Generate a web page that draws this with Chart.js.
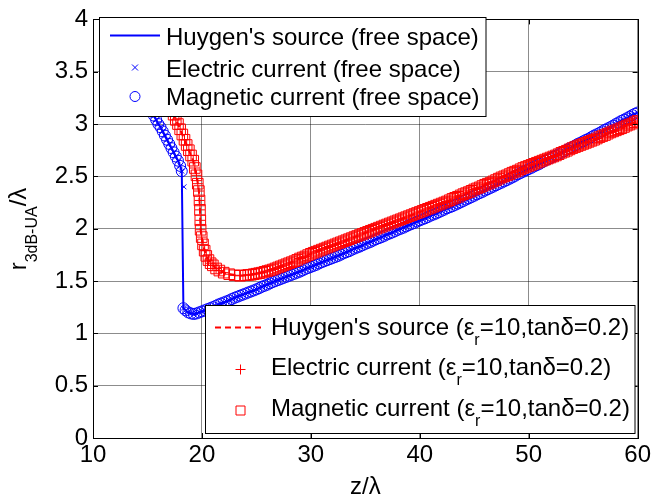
<!DOCTYPE html>
<html>
<head>
<meta charset="utf-8">
<script src="https://cdn.jsdelivr.net/npm/chart.js@4.4.1/dist/chart.umd.min.js"></script>
<style>
  html, body { margin: 0; padding: 0; background: #fff; }
  #cadre { width: 654px; height: 501px; }
</style>
</head>
<body>
<div id="cadre"><canvas id="graphique" width="654" height="501"></canvas></div>
<script>
// espace libre : z/lambda et r3dB-UA/lambda
const zLibre = [
  15.0, 15.2, 15.4, 15.6, 15.8, 16.0, 16.2, 16.4, 16.6, 16.8,
  17.0, 17.2, 17.4, 17.6, 17.8, 18.0, 18.15, 18.3, 18.5, 18.75,
  19.0, 19.25, 19.5, 19.75,
  20.0, 20.25, 20.5, 20.75, 21.0, 21.25, 21.5, 21.75,
  22.0, 22.25, 22.5, 22.75, 23.0, 23.25, 23.5, 23.75,
  24.0, 24.25, 24.5, 24.75, 25.0, 25.25, 25.5, 25.75,
  26.0, 26.25, 26.5, 26.75, 27.0, 27.25, 27.5, 27.75,
  28.0, 28.25, 28.5, 28.75, 29.0, 29.25, 29.5, 29.75,
  30.0, 30.25, 30.5, 30.75, 31.0, 31.25, 31.5, 31.75,
  32.0, 32.25, 32.5, 32.75, 33.0, 33.25, 33.5, 33.75,
  34.0, 34.25, 34.5, 34.75, 35.0, 35.25, 35.5, 35.75,
  36.0, 36.25, 36.5, 36.75, 37.0, 37.25, 37.5, 37.75,
  38.0, 38.25, 38.5, 38.75, 39.0, 39.25, 39.5, 39.75,
  40.0, 40.25, 40.5, 40.75, 41.0, 41.25, 41.5, 41.75,
  42.0, 42.25, 42.5, 42.75, 43.0, 43.25, 43.5, 43.75,
  44.0, 44.25, 44.5, 44.75, 45.0, 45.25, 45.5, 45.75,
  46.0, 46.25, 46.5, 46.75, 47.0, 47.25, 47.5, 47.75,
  48.0, 48.25, 48.5, 48.75, 49.0, 49.25, 49.5, 49.75,
  50.0, 50.25, 50.5, 50.75, 51.0, 51.25, 51.5, 51.75,
  52.0, 52.25, 52.5, 52.75, 53.0, 53.25, 53.5, 53.75,
  54.0, 54.25, 54.5, 54.75, 55.0, 55.25, 55.5, 55.75,
  56.0, 56.25, 56.5, 56.75, 57.0, 57.25, 57.5, 57.75,
  58.0, 58.25, 58.5, 58.75, 59.0, 59.25, 59.5, 59.75,
  60.0
];
const rLibre = [
  3.20, 3.16, 3.12, 3.08, 3.04, 3.00, 2.97, 2.93, 2.89, 2.85,
  2.81, 2.77, 2.73, 2.69, 2.65, 2.60, 2.55, 1.24, 1.22, 1.20,
  1.19, 1.185, 1.19, 1.20,
  1.21, 1.22, 1.23, 1.24, 1.25, 1.262, 1.275, 1.285,
  1.295, 1.305, 1.315, 1.328, 1.34, 1.35, 1.36, 1.37,
  1.38, 1.39, 1.40, 1.41, 1.42, 1.432, 1.445, 1.455,
  1.465, 1.478, 1.49, 1.50, 1.51, 1.52, 1.53, 1.54,
  1.55, 1.56, 1.57, 1.58, 1.59, 1.602, 1.615, 1.625,
  1.635, 1.645, 1.655, 1.668, 1.68, 1.69, 1.70, 1.71,
  1.72, 1.73, 1.74, 1.752, 1.765, 1.775, 1.785, 1.798,
  1.81, 1.82, 1.83, 1.842, 1.855, 1.865, 1.875, 1.888,
  1.90, 1.91, 1.92, 1.932, 1.945, 1.955, 1.965, 1.978,
  1.99, 2.00, 2.01, 2.022, 2.035, 2.045, 2.055, 2.068,
  2.08, 2.09, 2.10, 2.112, 2.125, 2.135, 2.145, 2.158,
  2.17, 2.182, 2.195, 2.205, 2.215, 2.228, 2.24, 2.252,
  2.265, 2.278, 2.29, 2.302, 2.315, 2.328, 2.34, 2.352,
  2.365, 2.378, 2.39, 2.402, 2.415, 2.428, 2.44, 2.452,
  2.465, 2.478, 2.49, 2.505, 2.52, 2.532, 2.545, 2.558,
  2.57, 2.582, 2.595, 2.608, 2.62, 2.635, 2.65, 2.662,
  2.675, 2.688, 2.70, 2.712, 2.725, 2.74, 2.755, 2.768,
  2.78, 2.795, 2.81, 2.822, 2.835, 2.848, 2.86, 2.875,
  2.89, 2.902, 2.915, 2.93, 2.945, 2.958, 2.97, 2.985,
  3.00, 3.015, 3.03, 3.042, 3.055, 3.07, 3.085, 3.098,
  3.11
];
// le courant electrique decroche un echantillon plus tard
const zSautElec = [18.35];
const rSautElec = [2.40];

// dielectrique eps_r = 10, tan d = 0.2
const zDiel = [
  17.0, 17.2, 17.4, 17.6, 17.8, 18.0, 18.2, 18.4, 18.6, 18.8,
  19.0, 19.2, 19.35, 19.5, 19.62, 19.72, 19.78, 19.82, 19.85, 19.88,
  19.98, 20.1, 20.25, 20.4, 20.6, 20.8, 21.0, 21.3, 21.6, 22.0,
  22.5, 23.0, 23.5,
  24.0, 24.25, 24.5, 24.75, 25.0, 25.25, 25.5, 25.75,
  26.0, 26.25, 26.5, 26.75, 27.0, 27.25, 27.5, 27.75,
  28.0, 28.25, 28.5, 28.75, 29.0, 29.25, 29.5, 29.75,
  30.0, 30.25, 30.5, 30.75, 31.0, 31.25, 31.5, 31.75,
  32.0, 32.25, 32.5, 32.75, 33.0, 33.25, 33.5, 33.75,
  34.0, 34.25, 34.5, 34.75, 35.0, 35.25, 35.5, 35.75,
  36.0, 36.25, 36.5, 36.75, 37.0, 37.25, 37.5, 37.75,
  38.0, 38.25, 38.5, 38.75, 39.0, 39.25, 39.5, 39.75,
  40.0, 40.25, 40.5, 40.75, 41.0, 41.25, 41.5, 41.75,
  42.0, 42.25, 42.5, 42.75, 43.0, 43.25, 43.5, 43.75,
  44.0, 44.25, 44.5, 44.75, 45.0, 45.25, 45.5, 45.75,
  46.0, 46.25, 46.5, 46.75, 47.0, 47.25, 47.5, 47.75,
  48.0, 48.25, 48.5, 48.75, 49.0, 49.25, 49.5, 49.75,
  50.0, 50.25, 50.5, 50.75, 51.0, 51.25, 51.5, 51.75,
  52.0, 52.25, 52.5, 52.75, 53.0, 53.25, 53.5, 53.75,
  54.0, 54.25, 54.5, 54.75, 55.0, 55.25, 55.5, 55.75,
  56.0, 56.25, 56.5, 56.75, 57.0, 57.25, 57.5, 57.75,
  58.0, 58.25, 58.5, 58.75, 59.0, 59.25, 59.5, 59.75,
  60.0
];
const rDiel = [
  3.20, 3.14, 3.09, 3.04, 3.00, 2.95, 2.90, 2.85, 2.80, 2.75,
  2.70, 2.65, 2.58, 2.51, 2.43, 2.36, 2.27, 2.18, 2.08, 1.99,
  1.92, 1.85, 1.79, 1.74, 1.70, 1.67, 1.65, 1.62, 1.60, 1.58,
  1.565, 1.555, 1.55,
  1.555, 1.558, 1.56, 1.565, 1.57, 1.575, 1.58, 1.588,
  1.595, 1.602, 1.61, 1.62, 1.63, 1.64, 1.65, 1.66,
  1.67, 1.68, 1.69, 1.702, 1.715, 1.725, 1.735, 1.748,
  1.76, 1.77, 1.78, 1.79, 1.80, 1.81, 1.82, 1.83,
  1.84, 1.85, 1.86, 1.87, 1.88, 1.89, 1.90, 1.91,
  1.92, 1.93, 1.94, 1.95, 1.96, 1.97, 1.98, 1.99,
  2.00, 2.01, 2.02, 2.03, 2.04, 2.05, 2.06, 2.07,
  2.08, 2.09, 2.10, 2.11, 2.12, 2.13, 2.14, 2.15,
  2.16, 2.17, 2.18, 2.19, 2.20, 2.21, 2.22, 2.23,
  2.24, 2.25, 2.26, 2.272, 2.285, 2.295, 2.305, 2.318,
  2.33, 2.34, 2.35, 2.362, 2.375, 2.385, 2.395, 2.408,
  2.42, 2.43, 2.44, 2.452, 2.465, 2.478, 2.49, 2.50,
  2.51, 2.522, 2.535, 2.545, 2.555, 2.568, 2.58, 2.59,
  2.60, 2.61, 2.62, 2.63, 2.64, 2.65, 2.66, 2.67,
  2.68, 2.69, 2.70, 2.712, 2.725, 2.735, 2.745, 2.758,
  2.77, 2.78, 2.79, 2.80, 2.81, 2.82, 2.83, 2.84,
  2.85, 2.862, 2.875, 2.885, 2.895, 2.908, 2.92, 2.93,
  2.94, 2.95, 2.96, 2.972, 2.985, 2.995, 3.005, 3.018,
  3.03
];

const ticksX = [10, 20, 30, 40, 50, 60];
const ticksY = [0, 0.5, 1, 1.5, 2, 2.5, 3, 3.5, 4];

const police = '"Liberation Sans", Arial, sans-serif';
const bleu = "#0000ff";
const rouge = "#ff0000";

const points = (zs, rs) => zs.map((z, i) => ({ x: z, y: rs[i] }));

function marqueurs(data, couleur, style, rayon) {
  return {
    data,
    showLine: false,
    pointStyle: style,
    pointRadius: rayon,
    pointBorderWidth: 1,
    pointBorderColor: couleur,
    pointBackgroundColor: "rgba(0,0,0,0)",
  };
}

function courbe(data, couleur, pointilles) {
  return {
    data,
    borderColor: couleur,
    borderWidth: 2,
    borderDash: pointilles,
    pointRadius: 0,
    tension: 0,
    fill: false,
  };
}

// texte avec indices : morceaux = [[texte, estIndice]]
function texteIndice(ctx, morceaux, x, y, taille, tailleIndice, decalage) {
  morceaux.forEach(([t, indice]) => {
    ctx.font = `${indice ? tailleIndice : taille}px ${police}`;
    ctx.fillText(t, x, indice ? y + decalage : y);
    x += ctx.measureText(t).width;
  });
  return x;
}

function largeurIndice(ctx, morceaux, taille, tailleIndice) {
  let l = 0;
  morceaux.forEach(([t, indice]) => {
    ctx.font = `${indice ? tailleIndice : taille}px ${police}`;
    l += ctx.measureText(t).width;
  });
  return l;
}

function symbole(ctx, style, x, y, couleur) {
  ctx.strokeStyle = couleur;
  ctx.lineWidth = 1;
  ctx.beginPath();
  if (style === "circle") {
    ctx.arc(x, y, 5, 0, Math.PI * 2);
  } else if (style === "crossRot") {
    ctx.moveTo(x - 3, y - 3); ctx.lineTo(x + 3, y + 3);
    ctx.moveTo(x + 3, y - 3); ctx.lineTo(x - 3, y + 3);
  } else if (style === "cross") {
    ctx.moveTo(x - 5, y); ctx.lineTo(x + 5, y);
    ctx.moveTo(x, y - 5); ctx.lineTo(x, y + 5);
  } else if (style === "rect") {
    ctx.rect(x - 4.5, y - 4.5, 9, 9);
  }
  ctx.stroke();
}

const habillage = {
  id: "habillage",
  afterDraw(chart) {
    const { ctx, chartArea: a, scales } = chart;
    const x = scales.x, y = scales.y;
    ctx.save();

    // petites graduations vers l'interieur et cadre
    ctx.strokeStyle = "#000";
    ctx.lineWidth = 1;
    ctx.beginPath();
    ticksX.forEach((v) => {
      const px = Math.round(x.getPixelForValue(v)) + 0.5;
      ctx.moveTo(px, a.bottom); ctx.lineTo(px, a.bottom - 5);
      ctx.moveTo(px, a.top); ctx.lineTo(px, a.top + 5);
    });
    ticksY.forEach((v) => {
      const py = Math.round(y.getPixelForValue(v)) + 0.5;
      ctx.moveTo(a.left, py); ctx.lineTo(a.left + 5, py);
      ctx.moveTo(a.right, py); ctx.lineTo(a.right - 5, py);
    });
    ctx.stroke();
    ctx.strokeRect(Math.round(a.left) + 0.5, Math.round(a.top) + 0.5,
      Math.round(a.right - a.left), Math.round(a.bottom - a.top));

    // legende espace libre
    ctx.fillStyle = "#fff";
    ctx.fillRect(99.5, 17.5, 386.5, 99);
    ctx.strokeStyle = "#000";
    ctx.strokeRect(99.5, 17.5, 386.5, 99);
    ctx.strokeStyle = bleu;
    ctx.lineWidth = 2;
    ctx.beginPath();
    ctx.moveTo(110, 35.5); ctx.lineTo(160, 35.5);
    ctx.stroke();
    symbole(ctx, "crossRot", 135, 67.5, bleu);
    symbole(ctx, "circle", 135, 96.5, bleu);
    ctx.fillStyle = "#000";
    ctx.textBaseline = "alphabetic";
    ctx.textAlign = "left";
    ctx.font = `24px ${police}`;
    ctx.fillText("Huygen's source (free space)", 166, 45);
    ctx.fillText("Electric current (free space)", 166, 76.5);
    ctx.fillText("Magnetic current (free space)", 166, 105);

    // legende dielectrique
    ctx.fillStyle = "#fff";
    ctx.fillRect(205.5, 305.5, 429.5, 128);
    ctx.strokeStyle = "#000";
    ctx.lineWidth = 1;
    ctx.strokeRect(205.5, 305.5, 429.5, 128);
    ctx.strokeStyle = rouge;
    ctx.lineWidth = 2;
    ctx.setLineDash([6, 4]);
    ctx.beginPath();
    ctx.moveTo(215, 327.5); ctx.lineTo(264, 327.5);
    ctx.stroke();
    ctx.setLineDash([]);
    symbole(ctx, "cross", 240.5, 369.5, rouge);
    symbole(ctx, "rect", 240.5, 410.5, rouge);
    ctx.fillStyle = "#000";
    const suite = (debut) => [[debut + " (\u03b5", false], ["r", true], ["=10,tan\u03b4=0.2)", false]];
    texteIndice(ctx, suite("Huygen's source"), 271, 334.5, 24, 16, 10);
    texteIndice(ctx, suite("Electric current"), 271, 375, 24, 16, 10);
    texteIndice(ctx, suite("Magnetic current"), 271, 415.5, 24, 16, 10);

    // titres des axes
    ctx.font = `24px ${police}`;
    ctx.textAlign = "center";
    ctx.fillText("z/\u03bb", (a.left + a.right) / 2, 494);

    const titreY = [["r", false], ["3dB-UA", true], ["/\u03bb", false]];
    ctx.textAlign = "left";
    ctx.translate(26, 229);
    ctx.rotate(-Math.PI / 2);
    const l = largeurIndice(ctx, titreY, 24, 16);
    texteIndice(ctx, titreY, -l / 2, 0, 24, 16, 11);

    ctx.restore();
  },
};

const chart = new Chart(document.getElementById("graphique"), {
  type: "line",
  data: {
    datasets: [
      marqueurs(points(zDiel, rDiel), rouge, "cross", 5),
      marqueurs(points(zDiel, rDiel), rouge, "rect", 7.5),
      courbe(points(zDiel, rDiel), rouge, [6, 4]),
      courbe(points(zLibre, rLibre), bleu, []),
      marqueurs(points(zLibre, rLibre).concat(points(zSautElec, rSautElec)), bleu, "crossRot", 3.5),
      marqueurs(points(zLibre, rLibre), bleu, "circle", 5.5),
    ],
  },
  options: {
    responsive: false,
    animation: false,
    events: [],
    layout: { padding: { top: 14, right: 15, left: 0, bottom: 0 } },
    plugins: { legend: { display: false }, tooltip: { enabled: false } },
    scales: {
      x: {
        type: "linear",
        min: 10,
        max: 60,
        afterBuildTicks: (s) => { s.ticks = ticksX.map((v) => ({ value: v })); },
        afterFit: (s) => { s.height = 63; },
        ticks: { color: "#000", font: { family: police, size: 24 }, padding: 3, maxRotation: 0 },
        grid: { color: "rgba(0,0,0,0.45)", lineWidth: 1, drawTicks: false },
        border: { display: false },
      },
      y: {
        type: "linear",
        min: 0,
        max: 4,
        afterBuildTicks: (s) => { s.ticks = ticksY.map((v) => ({ value: v })); },
        afterFit: (s) => { s.width = 93; },
        ticks: { color: "#000", font: { family: police, size: 24 }, padding: 5, callback: (v) => String(v) },
        grid: { color: "rgba(0,0,0,0.45)", lineWidth: 1, drawTicks: false },
        border: { display: false },
      },
    },
  },
  plugins: [habillage],
});
</script>
</body>
</html>
